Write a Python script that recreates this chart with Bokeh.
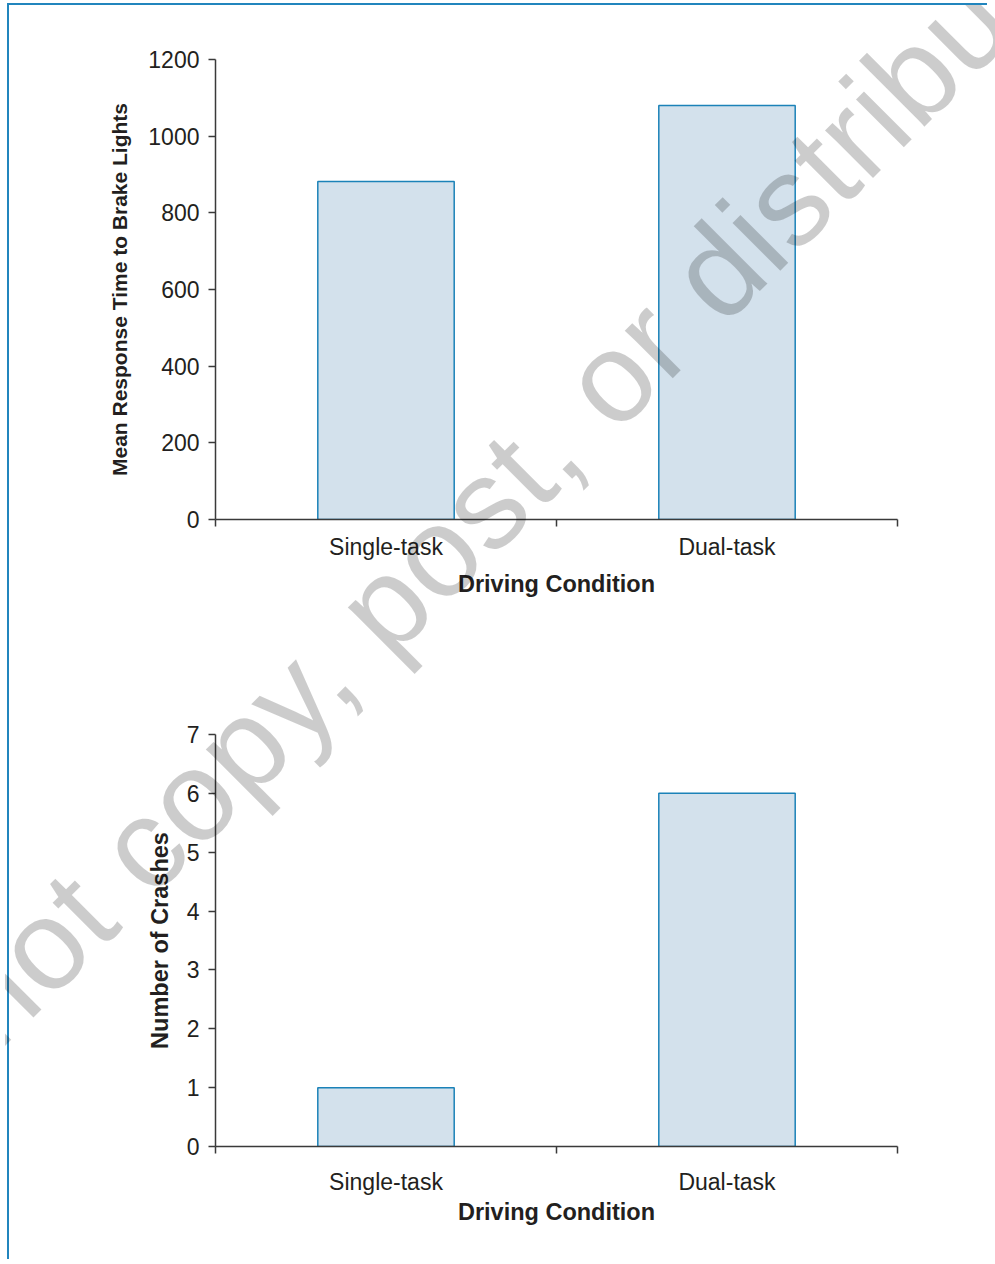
import math
from bokeh.plotting import figure
from bokeh.layouts import column
from bokeh.models import Range1d, FixedTicker, Div
from bokeh.embed import file_html
from bokeh.resources import INLINE

# ---------------- data ----------------
conditions = ["Single-task", "Dual-task"]
response_ms = [882, 1080]
crashes = [1, 6]
rt_ticks = [0, 200, 400, 600, 800, 1000, 1200]
crash_ticks = [0, 1, 2, 3, 4, 5, 6, 7]
x_title = "Driving Condition"
rt_title = "Mean Response Time to Brake Lights"
crash_title = "Number of Crashes"
watermark = "Do not copy, post, or distribute"

# ---------------- style ----------------
FONT = "Liberation Sans"
TXT = "#231f20"
AXIS = "#3a3a3a"
BAR_FILL = "#d3e1ec"
BAR_LINE = "#1b82b8"
FRAME_BORDER = "#2185bd"

# page geometry (page pixels)
X0, Y0 = 9, 5              # top-left of content (inside the blue border)
W = 978
FRAME_L, FRAME_R = 215, 897
WM_START = (-151, 1192)    # watermark baseline start in page px
WM_ANGLE_DEG = 45
WM_SIZE = 128
WM_SPACING = 1


def make_chart(values, ticks, ytitle, ytitle_size, page_top, height,
               frame_top, frame_bottom, xlab_standoff, xtitle_standoff,
               ytitle_standoff):
    n = len(conditions)
    centers = [i + 0.5 for i in range(n)]
    bounds = [float(i) for i in range(n + 1)]
    fh = frame_bottom - frame_top
    p = figure(width=W, height=height, output_backend="svg",
               toolbar_location=None,
               x_range=Range1d(0, n), y_range=Range1d(ticks[0], ticks[-1]),
               min_border_left=FRAME_L - X0,
               min_border_right=W - (FRAME_R - X0),
               min_border_top=frame_top - page_top,
               min_border_bottom=height - (frame_top - page_top) - fh,
               background_fill_color=None, border_fill_color=None)
    p.outline_line_color = None
    p.xgrid.visible = False
    p.ygrid.visible = False

    p.vbar(x=centers, top=values, bottom=0, width=0.4,
           fill_color=BAR_FILL, line_color=BAR_LINE, line_width=1.5)

    # x axis: labels at category centres, tick marks at category bounds
    xa = p.xaxis[0]
    xa.ticker = FixedTicker(ticks=centers, minor_ticks=bounds)
    xa.major_label_overrides = {c: lab for c, lab in zip(centers, conditions)}
    xa.major_tick_out = 0
    xa.major_tick_in = 0
    xa.minor_tick_out = 7
    xa.minor_tick_in = 0
    xa.minor_tick_line_color = AXIS
    xa.minor_tick_line_width = 1.5
    xa.axis_line_color = AXIS
    xa.axis_line_width = 1.5
    xa.major_label_text_font = FONT
    xa.major_label_text_font_size = "23px"
    xa.major_label_text_color = TXT
    xa.major_label_standoff = xlab_standoff
    xa.axis_label = x_title
    xa.axis_label_text_font = FONT
    xa.axis_label_text_font_style = "bold"
    xa.axis_label_text_font_size = "23.5px"
    xa.axis_label_text_color = TXT
    xa.axis_label_standoff = xtitle_standoff

    ya = p.yaxis[0]
    ya.ticker = FixedTicker(ticks=ticks, minor_ticks=[])
    ya.major_tick_out = 7
    ya.major_tick_in = 0
    ya.minor_tick_out = 0
    ya.major_tick_line_color = AXIS
    ya.major_tick_line_width = 1.5
    ya.axis_line_color = AXIS
    ya.axis_line_width = 1.5
    ya.major_label_text_font = FONT
    ya.major_label_text_font_size = "23px"
    ya.major_label_text_color = TXT
    ya.major_label_standoff = 9
    ya.axis_label = ytitle
    ya.axis_label_text_font = FONT
    ya.axis_label_text_font_style = "bold"
    ya.axis_label_text_font_size = ytitle_size
    ya.axis_label_text_color = TXT
    ya.axis_label_standoff = ytitle_standoff
    return p


H1, H2 = 634, 620
p1 = make_chart(response_ms, rt_ticks, rt_title, "21px",
                page_top=Y0, height=H1, frame_top=59, frame_bottom=519,
                xlab_standoff=7, xtitle_standoff=8, ytitle_standoff=14)
p2 = make_chart(crashes, crash_ticks, crash_title, "23.5px",
                page_top=Y0 + H1, height=H2, frame_top=734, frame_bottom=1146,
                xlab_standoff=15, xtitle_standoff=1, ytitle_standoff=11)

# watermark overlay (real SVG text) laid over both charts, page coordinates
DW, DH = 995, Y0 + H1 + H2
wx, wy = WM_START
wm_svg = (
    f'<svg xmlns="http://www.w3.org/2000/svg" width="{DW}" height="{DH}" '
    f'style="overflow:hidden;pointer-events:none;display:block">'
    f'<text x="{wx}" y="{wy}" transform="rotate(-{WM_ANGLE_DEG} {wx} {wy})" '
    f'font-family="Open Sans" font-size="{WM_SIZE}" letter-spacing="{WM_SPACING}" '
    f'fill="#000000" fill-opacity="0.2">{watermark}</text></svg>'
)
wm = Div(text=wm_svg, width=DW, height=DH,
         styles={"position": "absolute", "top": f"-{Y0}px", "left": f"-{X0}px",
                 "pointer-events": "none", "z-index": "10"})

layout = column(p1, p2, wm, spacing=0,
                styles={"border-left": f"2px solid {FRAME_BORDER}",
                        "border-top": f"2px solid {FRAME_BORDER}",
                        "margin-left": "7px", "margin-top": "3px",
                        "position": "relative"})

open("out.html", "w").write(file_html(layout, INLINE))
